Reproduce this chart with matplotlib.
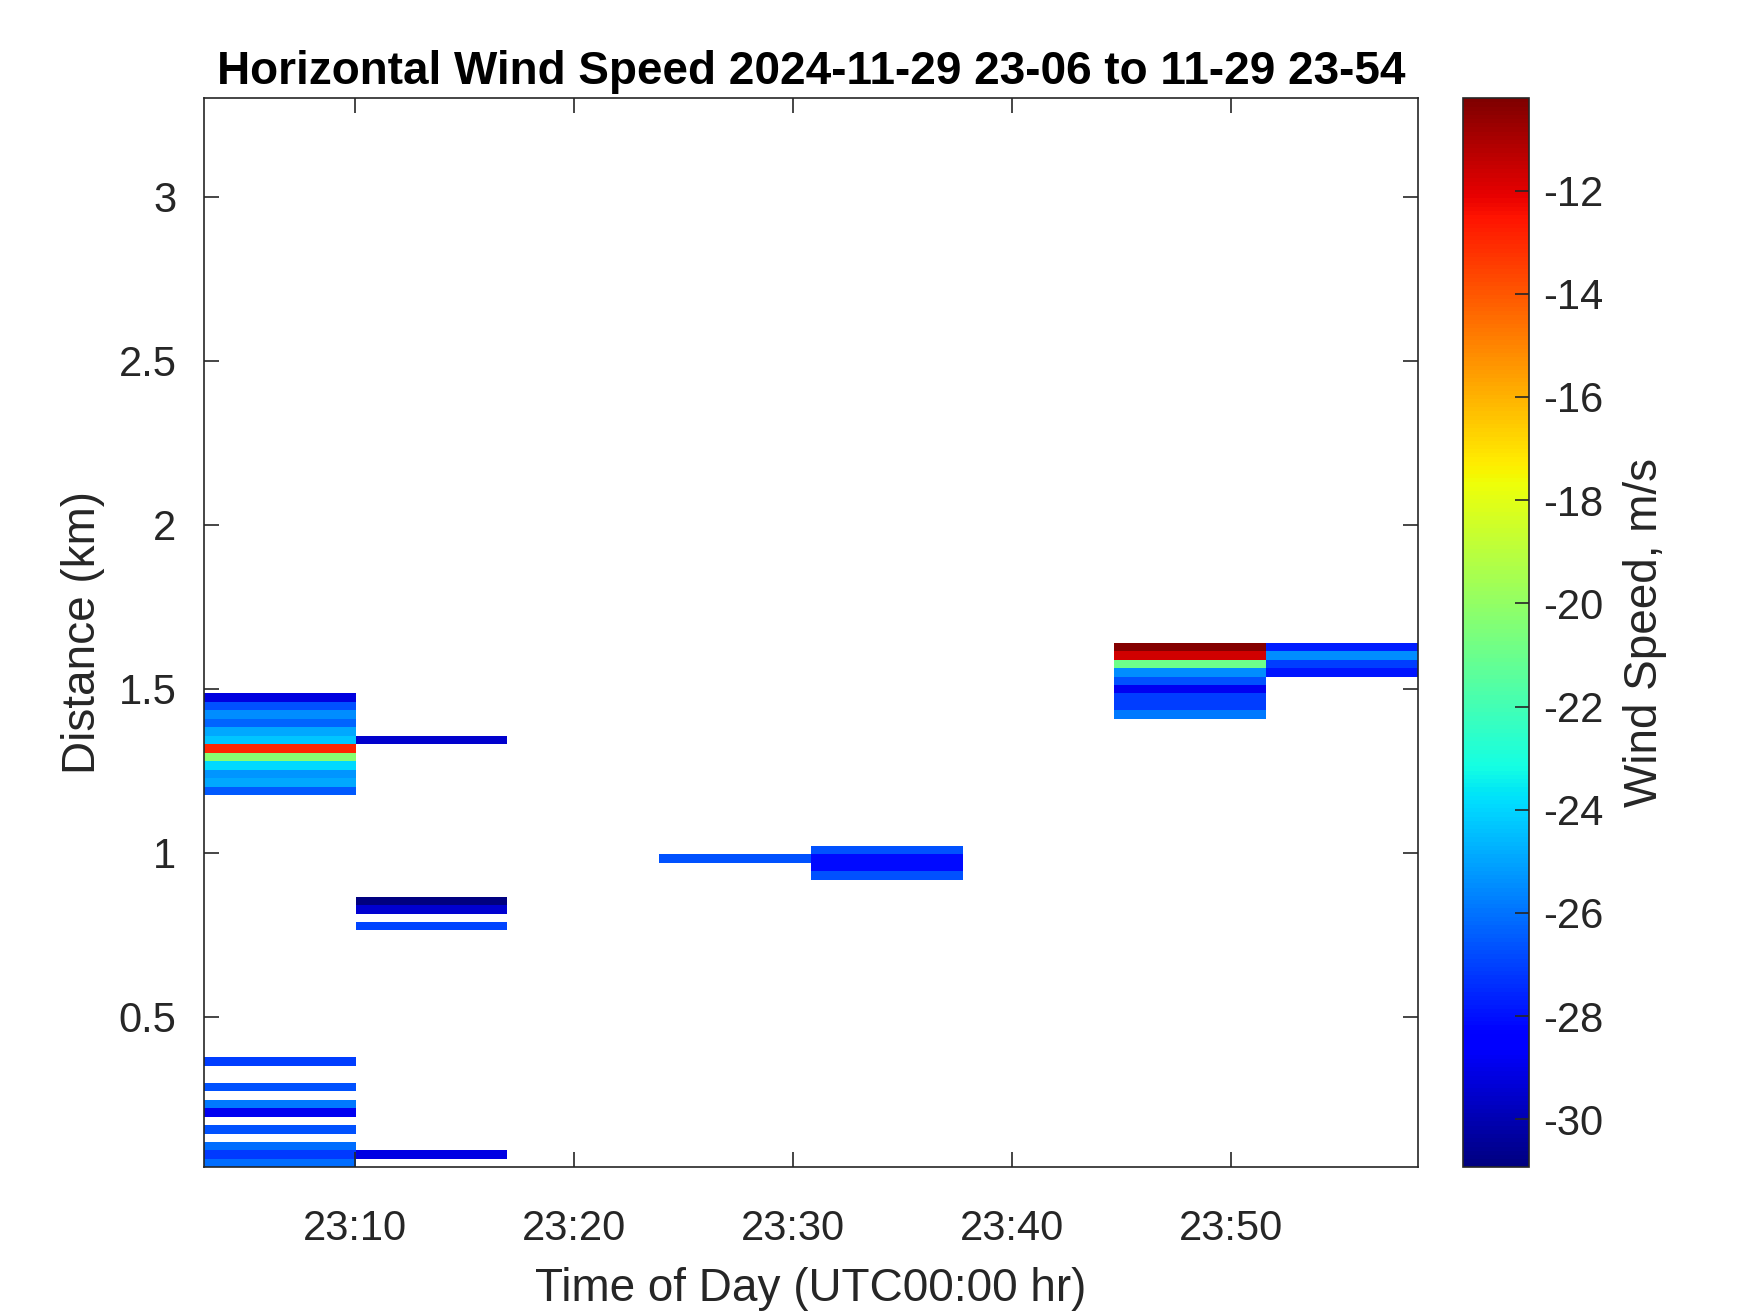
"""Horizontal wind speed range-time plot (lidar style pcolor)."""
import numpy as np
import pandas as pd
import matplotlib
matplotlib.use('Agg')
import matplotlib.pyplot as plt
import matplotlib.dates as mdates

plt.rcParams['font.family'] = ['Liberation Sans', 'DejaVu Sans']
plt.rcParams['axes.unicode_minus'] = False

# --- Data ---
# column edges (scan times), 8 columns of ~6.9 min
time_edges = ["2024-11-29 23:03:07", "2024-11-29 23:10:02", "2024-11-29 23:16:58",
              "2024-11-29 23:23:54", "2024-11-29 23:30:50", "2024-11-29 23:37:46",
              "2024-11-29 23:44:41", "2024-11-29 23:51:37", "2024-11-29 23:58:33"]

# range gates (km)
gate_start = 0.0405
gate_size = 0.0258
n_gates = 126

# per column: gate indices and speeds (m/s); empty columns have no returns
col1_gates = [0, 1, 2, 4, 6, 7, 9, 12, 44, 45, 46, 47, 48, 49, 50, 51, 52, 53, 54, 55]
col1_speed = [-26.1, -27.2, -26.1, -26.7, -28.9, -25.9, -26.7, -27.1,
              -26.5, -24.9, -25.3, -23.9, -20.3, -12.9, -24.3, -24.9, -26.3, -25.5, -26.7, -29.2]
col2_gates = [1, 28, 30, 31, 50]
col2_speed = [-29.1, -26.9, -29.4, -30.9, -29.5]
col3_gates = []
col3_speed = []
col4_gates = [36]
col4_speed = [-26.7]
col5_gates = [34, 35, 36, 37]
col5_speed = [-26.7, -28.1, -28.1, -26.7]
col6_gates = []
col6_speed = []
col7_gates = [53, 54, 55, 56, 57, 58, 59, 60, 61]
col7_speed = [-25.9, -27.1, -27.1, -28.9, -26.7, -25.5, -20.9, -11.7, -10.3]
col8_gates = [58, 59, 60, 61]
col8_speed = [-27.9, -27.1, -25.5, -27.7]

columns = [(col1_gates, col1_speed), (col2_gates, col2_speed), (col3_gates, col3_speed),
           (col4_gates, col4_speed), (col5_gates, col5_speed), (col6_gates, col6_speed),
           (col7_gates, col7_speed), (col8_gates, col8_speed)]

vmin, vmax = -30.93, -10.21
xticks = ["2024-11-29 23:10", "2024-11-29 23:20", "2024-11-29 23:30",
          "2024-11-29 23:40", "2024-11-29 23:50"]
yticks = [0.5, 1, 1.5, 2, 2.5, 3]
cbar_ticks = list(range(-30, -11, 2))

# --- Build grid ---
speed = np.full((n_gates, len(columns)), np.nan)
for j, (gates, vals) in enumerate(columns):
    for g, v in zip(gates, vals):
        speed[g, j] = v
speed = np.ma.masked_invalid(speed)

x_edges = mdates.date2num(pd.to_datetime(time_edges))
y_edges = gate_start + gate_size * np.arange(n_gates + 1)

# --- Plot ---
fig = plt.figure(figsize=(17.5, 13.13), dpi=100)
ax = fig.add_axes([0.1167, 0.1109, 0.6934, 0.8143])
cax = fig.add_axes([0.836, 0.1109, 0.0377, 0.8143])

mesh = ax.pcolormesh(x_edges, y_edges, speed, cmap='jet', vmin=vmin, vmax=vmax,
                     shading='flat', edgecolors='none')

axc = '#262626'
ax.set_xlim(x_edges[0], x_edges[-1])
ax.set_ylim(gate_start, 3.30)
ax.set_xticks(mdates.date2num(pd.to_datetime(xticks)))
ax.xaxis.set_major_formatter(mdates.DateFormatter('%H:%M'))
ax.set_yticks(yticks)
ax.set_yticklabels([f"{t:g}" for t in yticks])
ax.tick_params(direction='in', length=11, width=1.2, colors=axc, labelsize=30,
               top=True, right=True)
ax.tick_params(axis='x', pad=30)
ax.tick_params(axis='y', pad=20)
for s in ax.spines.values():
    s.set_color(axc)
    s.set_linewidth(1.2)

ax.set_xlabel('Time of Day (UTC00:00 hr)', fontsize=33, color=axc, labelpad=13)
ax.set_ylabel('Distance (km)', fontsize=33, color=axc, labelpad=10)
ax.set_title('Horizontal Wind Speed 2024-11-29 23-06 to 11-29 23-54',
             fontsize=33, fontweight='bold', color='black', pad=10)

cb = fig.colorbar(mesh, cax=cax)
cb.set_ticks(cbar_ticks)
cb.set_ticklabels([str(t) for t in cbar_ticks])
cb.ax.tick_params(direction='in', length=10, width=1.2, colors=axc, labelsize=30, pad=10)
cb.outline.set_edgecolor(axc)
cb.outline.set_linewidth(1.2)
cb.set_label('Wind Speed, m/s', fontsize=33, color=axc, labelpad=14)

plt.savefig('out.png', dpi=100)
